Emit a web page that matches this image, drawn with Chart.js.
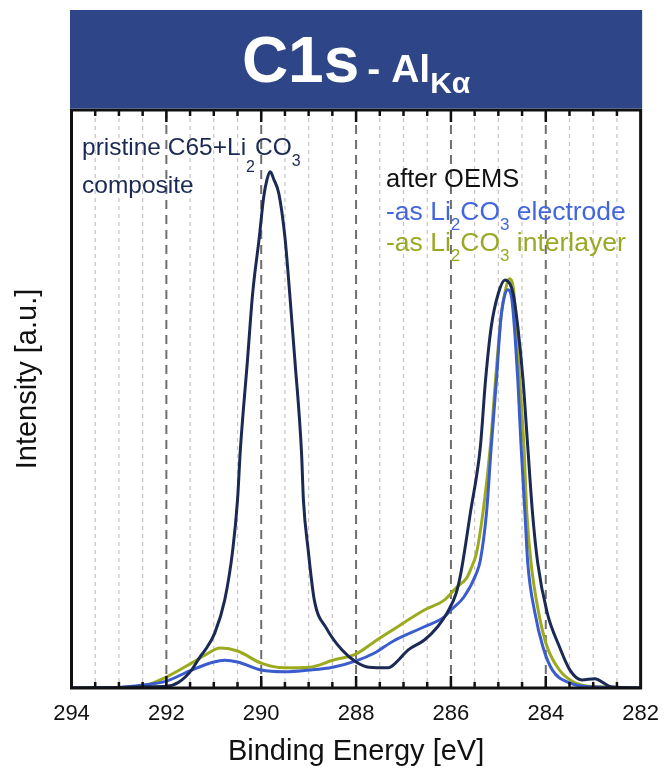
<!DOCTYPE html>
<html>
<head>
<meta charset="utf-8">
<script src="https://cdn.jsdelivr.net/npm/chart.js@4"></script>
<style>
    html, body { margin: 0; padding: 0; background: #fff; }
    #wrap { width: 672px; height: 772px; }
</style>
</head>
<body>
<div id="wrap"><canvas id="c1sChart" width="672" height="772"></canvas></div>
<script>
// C1s spectra, binding energy [eV] vs. normalised intensity [a.u.]
const pristineEnergy = [294.0, 293.0, 292.5, 292.0, 291.74, 291.47, 291.29, 291.18, 290.98, 290.77, 290.6, 290.5, 290.44, 290.29, 290.18, 290.04, 289.95, 289.88, 289.81, 289.73, 289.63, 289.5, 289.4, 289.29, 289.15, 289.11, 289.01, 288.88, 288.63, 288.3, 288.0, 287.73, 287.32, 287.17, 286.9, 286.56, 286.28, 286.08, 285.89, 285.79, 285.59, 285.38, 285.27, 285.15, 285.0, 284.86, 284.69, 284.59, 284.48, 284.38, 284.28, 284.17, 283.97, 283.71, 283.49, 283.24, 282.97, 282.62, 282.0];
const pristineIntensity = [0, 0.1, 0.2, 0.3, 1.0, 3.1, 5.4, 6.6, 9.5, 15.2, 23.9, 32.5, 41.2, 56.7, 68.3, 78.0, 84.8, 87.9, 89.3, 87.9, 85.6, 78.0, 68.3, 56.7, 40.7, 32.5, 23.9, 15.2, 10.4, 6.6, 4.5, 3.6, 3.5, 4.3, 6.6, 8.3, 10.6, 13.0, 16.4, 19.9, 30.3, 41.7, 53.3, 62.5, 68.3, 70.6, 68.3, 62.5, 53.3, 41.7, 30.3, 21.6, 13.0, 7.1, 3.1, 1.4, 1.6, 0.2, 0];

const electrodeEnergy = [294.0, 293.0, 292.5, 292.0, 291.47, 291.0, 290.77, 290.5, 290.0, 289.52, 288.98, 288.49, 288.0, 287.6, 287.24, 286.56, 286.14, 286.0, 285.73, 285.46, 285.38, 285.25, 285.15, 285.04, 284.95, 284.88, 284.8, 284.72, 284.65, 284.59, 284.52, 284.44, 284.38, 284.23, 284.06, 283.86, 283.5, 283.03, 282.0];
const electrodeIntensity = [0, 0.1, 0.5, 1.2, 3.1, 4.5, 4.8, 4.5, 3.1, 2.8, 3.1, 3.6, 4.7, 6.1, 8.0, 10.6, 12.3, 13.5, 15.7, 19.9, 22.1, 30.3, 41.7, 53.3, 63.7, 67.5, 68.9, 67.5, 61.1, 53.3, 41.7, 30.3, 21.6, 13.0, 7.1, 3.1, 0.9, 0.2, 0];

const interlayerEnergy = [294.0, 293.0, 292.5, 292.0, 291.47, 291.18, 290.97, 290.85, 290.5, 290.0, 289.52, 288.98, 288.49, 288.0, 287.6, 287.24, 286.56, 286.14, 285.87, 285.67, 285.59, 285.46, 285.31, 285.17, 285.06, 284.95, 284.85, 284.77, 284.68, 284.6, 284.55, 284.46, 284.4, 284.31, 284.15, 283.97, 283.71, 283.38, 282.89, 282.0];
const interlayerIntensity = [0, 0.1, 0.3, 1.9, 4.3, 5.7, 6.7, 6.9, 6.4, 4.3, 3.5, 3.6, 4.8, 5.9, 8.1, 10.0, 13.5, 15.2, 17.5, 19.0, 20.4, 23.4, 31.3, 41.7, 53.3, 63.7, 68.9, 70.8, 68.9, 59.3, 53.3, 41.7, 30.3, 21.6, 13.0, 7.1, 3.1, 0.9, 0.2, 0];

const xTickValues = [294, 292, 290, 288, 286, 284, 282];

const FONT = '"Liberation Sans", Arial, Helvetica, sans-serif';
const NAVY = '#1b2a55';
const BLUE = '#3b5ccc';
const OLIVE = '#9cab1e';

function toPoints(energy, intensity) {
    return energy.map((e, i) => ({ x: e, y: intensity[i] }));
}

// text runs with subscripts: [text, isSub, extra drop]
function drawRuns(ctx, runs, x, y, size, subSize, color) {
    ctx.fillStyle = color;
    ctx.textBaseline = 'alphabetic';
    ctx.textAlign = 'left';
    for (const [t, sub, drop] of runs) {
        ctx.font = (sub ? subSize : size) + 'px ' + FONT;
        ctx.fillText(t, x, sub ? y + (drop || 10) : y);
        x += ctx.measureText(t).width;
    }
}

const decorations = {
    id: 'decorations',
    beforeDatasetsDraw(chart) {
        const { ctx, chartArea: a, scales: { x } } = chart;
        ctx.save();
        for (let v = 282.5; v < 294; v += 0.5) {
            const px = x.getPixelForValue(v);
            ctx.beginPath();
            if (v % 2 === 0) {
                ctx.strokeStyle = '#6e6e6e';
                ctx.lineWidth = 2;
                ctx.setLineDash([9, 6]);
            } else {
                ctx.strokeStyle = '#c4c4c4';
                ctx.lineWidth = 1.2;
                ctx.setLineDash([4, 4]);
            }
            ctx.moveTo(px, a.top);
            ctx.lineTo(px, a.bottom);
            ctx.stroke();
        }
        ctx.restore();
    },
    afterDatasetsDraw(chart) {
        const { ctx, chartArea: a, scales: { x } } = chart;
        ctx.save();
        ctx.strokeStyle = '#111';
        ctx.lineWidth = 2.5;
        for (let v = 282.5; v < 294; v += 0.5) {
            const px = x.getPixelForValue(v);
            const len = v % 2 === 0 ? 12 : 6;
            ctx.beginPath();
            ctx.moveTo(px, a.bottom);
            ctx.lineTo(px, a.bottom - len);
            ctx.moveTo(px, a.top);
            ctx.lineTo(px, a.top + len);
            ctx.stroke();
        }
        ctx.lineWidth = 3;
        ctx.strokeRect(a.left, a.top, a.right - a.left, a.bottom - a.top);
        ctx.restore();
    },
    afterDraw(chart) {
        const { ctx, chartArea: a } = chart;
        ctx.save();

        // title banner
        ctx.fillStyle = '#2e4587';
        ctx.fillRect(a.left - 1.5, 10, a.right - a.left + 3, a.top - 11.5);
        ctx.fillStyle = '#fff';
        ctx.textBaseline = 'alphabetic';
        ctx.textAlign = 'left';
        ctx.font = 'bold 64px ' + FONT;
        const w1 = ctx.measureText('C1s').width;
        ctx.font = 'bold 39px ' + FONT;
        const w2 = ctx.measureText('- Al').width;
        ctx.font = 'bold 30px ' + FONT;
        const w3 = ctx.measureText('Kα').width;
        let tx = (a.left + a.right) / 2 - (w1 + 8 + w2 + w3) / 2;
        ctx.font = 'bold 64px ' + FONT;
        ctx.fillText('C1s', tx, 82);
        tx += w1 + 8;
        ctx.font = 'bold 39px ' + FONT;
        ctx.fillText('- Al', tx, 82);
        tx += w2;
        ctx.font = 'bold 30px ' + FONT;
        ctx.fillText('Kα', tx, 93);

        // y axis title
        ctx.save();
        ctx.translate(28, 379);
        ctx.rotate(-Math.PI / 2);
        ctx.textAlign = 'center';
        ctx.textBaseline = 'middle';
        ctx.fillStyle = '#111';
        ctx.font = '29px ' + FONT;
        ctx.fillText('Intensity [a.u.]', 0, 0);
        ctx.restore();

        // sample labels
        drawRuns(ctx, [['pristine C65+Li'], ['2', true, 17], ['CO'], ['3', true, 11]], 82, 155, 24.5, 16, NAVY);
        drawRuns(ctx, [['composite']], 82, 193, 24.5, 16, NAVY);
        drawRuns(ctx, [['after OEMS']], 386, 187, 25.5, 17, '#111');
        drawRuns(ctx, [['-as Li'], ['2', true], ['CO'], ['3', true], [' electrode']], 386, 220, 26.5, 17, '#4466dd');
        drawRuns(ctx, [['-as Li'], ['2', true], ['CO'], ['3', true], [' interlayer']], 386, 251, 26.5, 17, '#9aa826');
        ctx.restore();
    }
};

const ctx = document.getElementById('c1sChart').getContext('2d');
new Chart(ctx, {
    type: 'line',
    data: {
        datasets: [
            {
                label: 'pristine C65+Li2CO3 composite',
                data: toPoints(pristineEnergy, pristineIntensity),
                borderColor: NAVY,
                borderWidth: 3
            },
            {
                label: 'after OEMS - as Li2CO3 electrode',
                data: toPoints(electrodeEnergy, electrodeIntensity),
                borderColor: BLUE,
                borderWidth: 3
            },
            {
                label: 'after OEMS - as Li2CO3 interlayer',
                data: toPoints(interlayerEnergy, interlayerIntensity),
                borderColor: OLIVE,
                borderWidth: 3
            }
        ]
    },
    options: {
        responsive: false,
        devicePixelRatio: 1,
        animation: false,
        elements: {
            point: { radius: 0 },
            line: { cubicInterpolationMode: 'monotone', fill: false }
        },
        layout: {
            padding: { left: 71.5, right: 22, top: 110, bottom: 0 }
        },
        scales: {
            x: {
                type: 'linear',
                reverse: true,
                min: 282,
                max: 294,
                afterFit: (scale) => { scale.height = 84; },
                afterBuildTicks: (scale) => { scale.ticks = xTickValues.map(v => ({ value: v })); },
                grid: { display: false, drawTicks: false },
                border: { display: false },
                ticks: {
                    padding: 13,
                    color: '#111',
                    font: { family: FONT, size: 22 }
                },
                title: {
                    display: true,
                    text: 'Binding Energy [eV]',
                    color: '#111',
                    padding: { top: 0, bottom: 3 },
                    font: { family: FONT, size: 29 }
                }
            },
            y: {
                display: false,
                min: 0,
                max: 100
            }
        },
        plugins: {
            legend: { display: false },
            tooltip: { enabled: false }
        }
    },
    plugins: [decorations]
});
</script>
</body>
</html>
